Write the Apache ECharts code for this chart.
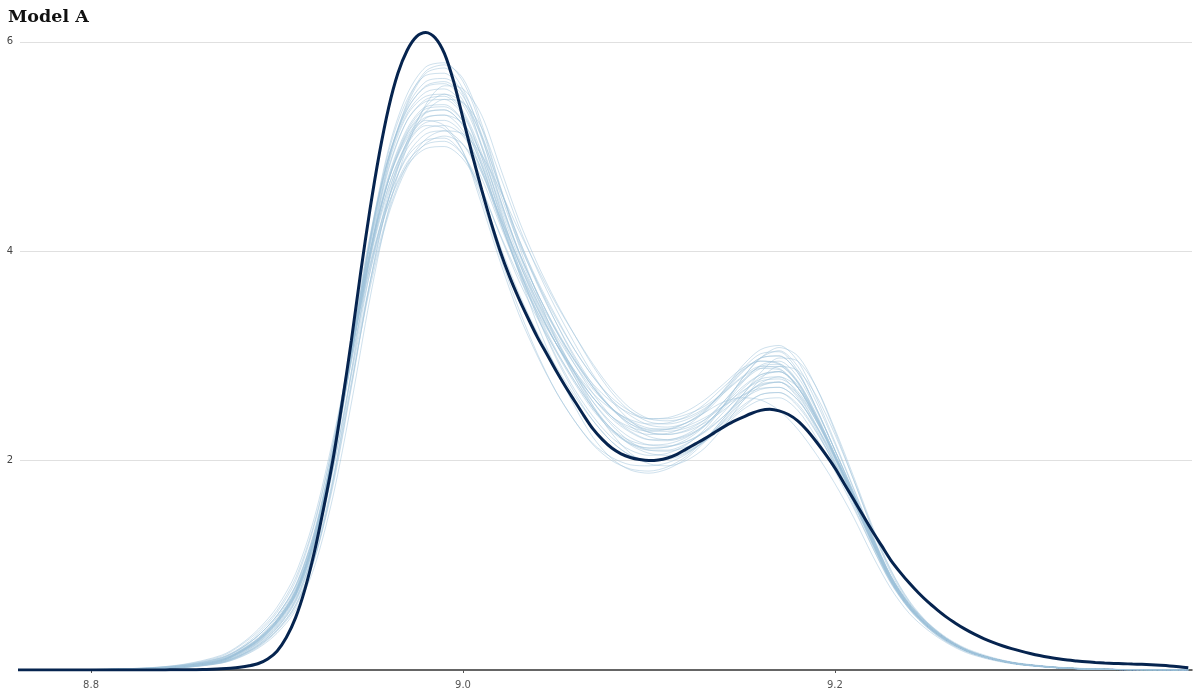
<!DOCTYPE html>
<html>
<head>
<meta charset="utf-8">
<script src="https://cdn.jsdelivr.net/npm/echarts@6/dist/echarts.min.js"></script>
<style>
html,body{margin:0;padding:0;background:#fff;}
#chart{width:1200px;height:700px;}
</style>
</head>
<body>
<div id="chart"></div>
<script>
// x positions of the replicated density grid
var xValues = [8.76,8.80,8.83,8.85,8.87,8.88,8.89,8.90,8.91,8.92,8.93,8.94,8.95,8.96,8.97,8.98,8.99,9.00,9.01,9.02,9.03,9.04,9.05,9.06,9.07,9.08,9.09,9.10,9.11,9.12,9.13,9.14,9.15,9.16,9.17,9.18,9.19,9.20,9.21,9.22,9.23,9.24,9.25,9.26,9.27,9.28,9.29,9.30,9.32,9.34,9.36,9.39];

// x positions of the observed density (finer, every 0.005 from 8.84)
var obsX = [8.76,8.80,8.84,8.845,8.85,8.855,8.86,8.865,8.87,8.875,8.88,8.885,8.89,8.895,8.90,8.905,8.91,8.915,8.92,8.925,8.93,8.935,8.94,8.945,8.95,8.955,8.96,8.965,8.97,8.975,8.98,8.985,8.99,8.995,9.00,9.005,9.01,9.015,9.02,9.025,9.03,9.035,9.04,9.045,9.05,9.055,9.06,9.065,9.07,9.075,9.08,9.085,9.09,9.095,9.10,9.105,9.11,9.115,9.12,9.125,9.13,9.135,9.14,9.145,9.15,9.155,9.16,9.165,9.17,9.175,9.18,9.185,9.19,9.195,9.20,9.205,9.21,9.215,9.22,9.225,9.23,9.235,9.24,9.245,9.25,9.255,9.26,9.265,9.27,9.275,9.28,9.285,9.29,9.295,9.30,9.305,9.31,9.315,9.32,9.325,9.33,9.335,9.34,9.345,9.35,9.355,9.36,9.365,9.37,9.375,9.38,9.385,9.39];
// observed density (dark line)
var observed = [0,0,0.001,0.0015,0.002,0.003,0.004,0.007,0.011,0.017,0.026,0.04,0.062,0.105,0.18,0.31,0.5,0.77,1.12,1.54,2.0,2.55,3.15,3.8,4.4,4.93,5.37,5.7,5.92,6.05,6.09,6.04,5.89,5.62,5.27,4.92,4.59,4.28,4.0,3.76,3.55,3.36,3.18,3.02,2.86,2.71,2.57,2.43,2.3,2.2,2.12,2.065,2.03,2.01,2.0,2.005,2.025,2.06,2.11,2.16,2.21,2.265,2.32,2.37,2.41,2.45,2.48,2.49,2.475,2.44,2.38,2.29,2.18,2.06,1.93,1.78,1.63,1.48,1.33,1.19,1.05,0.935,0.83,0.735,0.65,0.575,0.505,0.445,0.39,0.342,0.3,0.264,0.232,0.204,0.18,0.158,0.138,0.121,0.107,0.095,0.086,0.078,0.072,0.067,0.063,0.06,0.057,0.054,0.05,0.045,0.039,0.031,0.022];

// replicated densities (light lines)
var rep01 = [0,0.002,0.01,0.03,0.08,0.15,0.26,0.43,0.7,1.2,2.0,3.05,4.1,4.9,5.4,5.7,5.75,5.55,5.1,4.5,4.0,3.6,3.25,2.95,2.7,2.5,2.37,2.3,2.3,2.36,2.48,2.66,2.87,3.02,3.04,2.86,2.5,2.1,1.68,1.25,0.86,0.6,0.41,0.28,0.19,0.13,0.085,0.055,0.022,0.008,0.003,0];
var rep02 = [0,0.004,0.016,0.042,0.11,0.2,0.33,0.52,0.8,1.3,2.05,2.95,3.8,4.45,4.85,5.02,5.05,4.92,4.6,4.15,3.72,3.36,3.05,2.76,2.5,2.3,2.15,2.07,2.05,2.09,2.19,2.34,2.5,2.63,2.65,2.52,2.27,1.96,1.6,1.22,0.88,0.63,0.45,0.31,0.21,0.145,0.095,0.063,0.027,0.011,0.004,0];
var rep03 = [0,0.002,0.008,0.025,0.07,0.13,0.23,0.38,0.62,1.05,1.75,2.7,3.7,4.5,5.05,5.38,5.5,5.42,5.1,4.6,4.1,3.68,3.32,3.0,2.72,2.5,2.33,2.23,2.2,2.24,2.34,2.52,2.74,2.91,2.95,2.8,2.48,2.1,1.7,1.28,0.9,0.63,0.44,0.3,0.2,0.135,0.09,0.058,0.024,0.009,0.003,0];
var rep04 = [0,0.004,0.018,0.048,0.12,0.21,0.35,0.55,0.85,1.38,2.15,3.1,4.0,4.68,5.08,5.25,5.2,4.95,4.45,3.9,3.4,3.0,2.66,2.38,2.15,2.0,1.92,1.9,1.94,2.04,2.2,2.4,2.6,2.73,2.75,2.6,2.3,1.95,1.57,1.18,0.83,0.58,0.4,0.27,0.18,0.12,0.08,0.05,0.02,0.008,0.003,0];
var rep05 = [0,0.003,0.012,0.035,0.09,0.17,0.29,0.47,0.74,1.27,2.1,3.15,4.15,4.9,5.35,5.58,5.62,5.48,5.08,4.55,4.08,3.7,3.36,3.06,2.8,2.6,2.47,2.4,2.4,2.44,2.52,2.65,2.8,2.9,2.88,2.7,2.38,2.02,1.64,1.23,0.86,0.6,0.42,0.29,0.19,0.13,0.085,0.055,0.022,0.008,0.003,0];
var rep06 = [0,0.003,0.013,0.038,0.1,0.18,0.3,0.48,0.76,1.26,2.02,2.95,3.85,4.5,4.92,5.12,5.15,5.02,4.7,4.25,3.82,3.45,3.12,2.84,2.6,2.42,2.3,2.25,2.26,2.33,2.47,2.67,2.9,3.06,3.1,2.95,2.6,2.18,1.74,1.3,0.9,0.62,0.43,0.29,0.19,0.13,0.085,0.055,0.022,0.008,0.003,0];
var rep07 = [0,0.003,0.012,0.035,0.09,0.17,0.29,0.47,0.74,1.25,2.05,3.05,4.05,4.8,5.25,5.43,5.45,5.3,4.9,4.38,3.9,3.48,3.12,2.8,2.52,2.3,2.16,2.1,2.1,2.16,2.28,2.46,2.65,2.78,2.8,2.64,2.34,2.0,1.63,1.23,0.86,0.6,0.42,0.29,0.19,0.13,0.085,0.055,0.022,0.008,0.003,0];
var rep08 = [0,0.003,0.014,0.04,0.1,0.18,0.3,0.48,0.75,1.25,2.02,2.98,3.95,4.68,5.12,5.32,5.35,5.2,4.82,4.32,3.86,3.46,3.12,2.82,2.56,2.36,2.22,2.15,2.14,2.18,2.27,2.42,2.62,2.84,2.98,2.95,2.7,2.3,1.85,1.38,0.96,0.66,0.45,0.3,0.2,0.135,0.09,0.058,0.024,0.009,0.003,0];
var rep09 = [0,0.002,0.009,0.028,0.075,0.14,0.25,0.41,0.67,1.15,1.95,3.0,4.1,4.95,5.45,5.68,5.7,5.5,5.0,4.4,3.85,3.38,2.98,2.65,2.38,2.18,2.05,2.0,2.02,2.08,2.18,2.32,2.48,2.58,2.6,2.48,2.22,1.9,1.55,1.18,0.84,0.59,0.41,0.28,0.19,0.13,0.085,0.055,0.022,0.008,0.003,0];
var rep10 = [0,0.005,0.02,0.055,0.14,0.24,0.39,0.6,0.92,1.45,2.2,3.05,3.85,4.45,4.82,4.98,5.0,4.88,4.58,4.16,3.76,3.42,3.12,2.86,2.64,2.49,2.39,2.35,2.36,2.42,2.54,2.7,2.86,2.95,2.93,2.75,2.42,2.04,1.64,1.22,0.85,0.59,0.41,0.28,0.19,0.13,0.085,0.055,0.022,0.008,0.003,0];
var rep11 = [0,0.003,0.011,0.032,0.085,0.16,0.27,0.45,0.72,1.22,2.02,3.08,4.1,4.88,5.32,5.52,5.55,5.4,5.0,4.48,4.0,3.6,3.26,2.96,2.7,2.5,2.35,2.27,2.25,2.28,2.36,2.48,2.62,2.72,2.75,2.64,2.38,2.05,1.68,1.27,0.88,0.61,0.42,0.29,0.19,0.13,0.085,0.055,0.022,0.008,0.003,0];
var rep12 = [0,0.002,0.01,0.03,0.08,0.15,0.26,0.42,0.68,1.15,1.9,2.85,3.8,4.55,5.05,5.27,5.3,5.22,4.92,4.45,3.98,3.55,3.18,2.84,2.52,2.26,2.07,1.97,1.95,2.0,2.12,2.32,2.56,2.78,2.9,2.86,2.62,2.25,1.82,1.36,0.95,0.65,0.44,0.3,0.2,0.135,0.09,0.058,0.024,0.009,0.003,0];
var rep13 = [0,0.003,0.012,0.034,0.09,0.17,0.28,0.46,0.73,1.24,2.05,3.1,4.12,4.9,5.36,5.57,5.6,5.44,5.02,4.5,4.0,3.6,3.24,2.92,2.64,2.42,2.28,2.2,2.19,2.23,2.33,2.5,2.68,2.82,2.85,2.7,2.4,2.04,1.66,1.25,0.87,0.6,0.42,0.29,0.19,0.13,0.085,0.055,0.022,0.008,0.003,0];
var rep14 = [0,0.002,0.009,0.027,0.075,0.14,0.24,0.4,0.65,1.1,1.82,2.75,3.65,4.35,4.8,5.03,5.1,5.02,4.75,4.32,3.9,3.52,3.2,2.92,2.68,2.5,2.38,2.31,2.3,2.33,2.41,2.52,2.62,2.69,2.7,2.58,2.33,2.02,1.66,1.27,0.9,0.63,0.44,0.3,0.2,0.135,0.09,0.058,0.024,0.009,0.003,0];
var rep15 = [0,0.003,0.013,0.037,0.095,0.175,0.29,0.47,0.74,1.25,2.04,3.02,4.0,4.72,5.17,5.38,5.4,5.24,4.84,4.3,3.8,3.38,3.0,2.68,2.42,2.22,2.1,2.05,2.07,2.15,2.3,2.52,2.78,2.98,3.05,2.9,2.56,2.16,1.73,1.29,0.9,0.62,0.43,0.29,0.19,0.13,0.085,0.055,0.022,0.008,0.003,0];
var rep16 = [0,0.004,0.015,0.042,0.105,0.19,0.31,0.5,0.78,1.3,2.08,3.02,3.92,4.58,4.98,5.17,5.2,5.1,4.78,4.33,3.92,3.56,3.24,2.96,2.73,2.56,2.45,2.4,2.41,2.47,2.58,2.73,2.88,2.95,2.92,2.74,2.41,2.03,1.63,1.22,0.85,0.59,0.41,0.28,0.19,0.13,0.085,0.055,0.022,0.008,0.003,0];
var rep17 = [0,0.002,0.008,0.024,0.066,0.125,0.22,0.37,0.6,1.05,1.8,2.85,3.95,4.85,5.42,5.72,5.78,5.65,5.22,4.62,4.06,3.58,3.16,2.8,2.5,2.28,2.16,2.12,2.13,2.18,2.28,2.42,2.58,2.68,2.7,2.58,2.32,1.98,1.62,1.22,0.86,0.6,0.42,0.29,0.19,0.13,0.085,0.055,0.022,0.008,0.003,0];
var rep18 = [0,0.003,0.013,0.038,0.095,0.18,0.3,0.48,0.76,1.27,2.06,3.04,3.98,4.68,5.1,5.28,5.3,5.15,4.78,4.28,3.84,3.46,3.12,2.84,2.6,2.42,2.32,2.28,2.3,2.36,2.46,2.56,2.6,2.58,2.48,2.3,2.06,1.78,1.46,1.1,0.78,0.54,0.38,0.26,0.17,0.115,0.075,0.05,0.02,0.008,0.003,0];
var rep19 = [0,0.003,0.012,0.034,0.088,0.165,0.28,0.45,0.72,1.22,2.0,3.0,4.0,4.78,5.25,5.45,5.48,5.32,4.9,4.35,3.8,3.3,2.88,2.52,2.22,2.02,1.91,1.88,1.92,2.02,2.18,2.38,2.58,2.74,2.8,2.7,2.42,2.06,1.68,1.27,0.89,0.62,0.43,0.29,0.19,0.13,0.085,0.055,0.022,0.008,0.003,0];
var rep20 = [0,0.004,0.016,0.045,0.115,0.2,0.33,0.52,0.8,1.3,2.08,3.02,3.94,4.62,5.04,5.23,5.25,5.12,4.76,4.28,3.82,3.42,3.06,2.76,2.5,2.3,2.19,2.15,2.16,2.22,2.34,2.52,2.7,2.82,2.85,2.7,2.4,2.03,1.64,1.23,0.86,0.6,0.42,0.29,0.19,0.13,0.085,0.055,0.022,0.008,0.003,0];
var rep21 = [0,0.003,0.011,0.032,0.085,0.16,0.27,0.44,0.71,1.2,2.0,3.05,4.08,4.88,5.38,5.62,5.65,5.52,5.12,4.6,4.12,3.72,3.38,3.06,2.8,2.58,2.43,2.34,2.32,2.36,2.46,2.64,2.84,2.98,3.0,2.84,2.5,2.1,1.69,1.26,0.88,0.61,0.42,0.29,0.19,0.13,0.085,0.055,0.022,0.008,0.003,0];
var rep22 = [0,0.005,0.02,0.052,0.13,0.23,0.37,0.57,0.88,1.4,2.15,3.05,3.88,4.5,4.9,5.06,5.08,4.92,4.55,4.05,3.6,3.22,2.9,2.62,2.38,2.18,2.05,2.0,2.01,2.07,2.19,2.37,2.56,2.71,2.75,2.62,2.33,1.98,1.6,1.2,0.84,0.58,0.4,0.27,0.18,0.12,0.08,0.05,0.02,0.008,0.003,0];
var rep23 = [0,0.003,0.012,0.035,0.09,0.17,0.29,0.46,0.73,1.24,2.03,3.02,3.98,4.7,5.15,5.36,5.38,5.24,4.86,4.36,3.9,3.5,3.15,2.86,2.6,2.4,2.27,2.2,2.2,2.25,2.37,2.56,2.76,2.9,2.92,2.76,2.44,2.06,1.67,1.26,0.88,0.61,0.42,0.29,0.19,0.13,0.085,0.055,0.022,0.008,0.003,0];
var rep24 = [0,0.003,0.012,0.034,0.088,0.165,0.28,0.46,0.73,1.24,2.04,3.06,4.06,4.84,5.3,5.48,5.5,5.34,4.94,4.42,3.94,3.52,3.16,2.84,2.56,2.34,2.18,2.1,2.09,2.13,2.22,2.36,2.52,2.63,2.65,2.54,2.28,1.96,1.6,1.21,0.85,0.59,0.41,0.28,0.19,0.13,0.085,0.055,0.022,0.008,0.003,0];
var rep25 = [0,0.002,0.008,0.024,0.065,0.12,0.21,0.35,0.57,0.98,1.65,2.55,3.55,4.4,5.0,5.4,5.58,5.55,5.3,4.8,4.3,3.88,3.52,3.2,2.9,2.65,2.47,2.37,2.35,2.39,2.49,2.66,2.85,2.98,3.0,2.84,2.5,2.1,1.7,1.27,0.89,0.62,0.43,0.29,0.19,0.13,0.085,0.055,0.022,0.008,0.003,0];
var rep26 = [0,0.002,0.009,0.027,0.072,0.135,0.23,0.38,0.62,1.06,1.78,2.72,3.7,4.5,5.02,5.33,5.45,5.42,5.18,4.72,4.24,3.82,3.45,3.12,2.82,2.57,2.38,2.27,2.25,2.29,2.39,2.56,2.75,2.88,2.9,2.75,2.44,2.06,1.67,1.26,0.88,0.61,0.42,0.29,0.19,0.13,0.085,0.055,0.022,0.008,0.003,0];
var rep27 = [0,0.004,0.017,0.046,0.115,0.2,0.33,0.52,0.81,1.32,2.1,3.05,3.95,4.62,5.02,5.2,5.17,4.95,4.5,3.95,3.45,3.02,2.66,2.38,2.16,2.03,1.96,1.95,1.98,2.06,2.2,2.4,2.62,2.8,2.85,2.72,2.42,2.05,1.66,1.25,0.87,0.6,0.42,0.29,0.19,0.13,0.085,0.055,0.022,0.008,0.003,0];
var rep28 = [0,0.002,0.009,0.027,0.072,0.135,0.24,0.4,0.66,1.14,1.95,3.02,4.12,4.98,5.5,5.76,5.8,5.62,5.18,4.62,4.12,3.7,3.32,2.98,2.7,2.49,2.35,2.29,2.28,2.31,2.39,2.52,2.66,2.76,2.78,2.66,2.38,2.04,1.67,1.26,0.88,0.61,0.42,0.29,0.19,0.13,0.085,0.055,0.022,0.008,0.003,0];
var rep29 = [0,0.003,0.012,0.035,0.09,0.17,0.28,0.45,0.71,1.18,1.92,2.82,3.7,4.38,4.83,5.07,5.15,5.12,4.92,4.58,4.2,3.84,3.5,3.2,2.92,2.68,2.5,2.4,2.38,2.41,2.5,2.64,2.79,2.88,2.87,2.7,2.4,2.03,1.64,1.23,0.86,0.6,0.42,0.29,0.19,0.13,0.085,0.055,0.022,0.008,0.003,0];
var rep30 = [0,0.003,0.013,0.038,0.098,0.18,0.3,0.48,0.76,1.27,2.06,3.03,3.98,4.68,5.13,5.33,5.35,5.2,4.82,4.3,3.82,3.4,3.04,2.74,2.48,2.29,2.17,2.12,2.13,2.2,2.33,2.53,2.78,2.98,3.08,3.0,2.7,2.28,1.82,1.35,0.93,0.64,0.44,0.3,0.2,0.135,0.09,0.058,0.024,0.009,0.003,0];

var replicates = [rep01,rep02,rep03,rep04,rep05,rep06,rep07,rep08,rep09,rep10,rep11,rep12,rep13,rep14,rep15,rep16,rep17,rep18,rep19,rep20,rep21,rep22,rep23,rep24,rep25,rep26,rep27,rep28,rep29,rep30];

// axis tick labels
var xTickValues = [8.8, 9.0, 9.2];
var yTickValues = [2, 4, 6];
var titleText = 'Model A';

function pairs(xs, ys){
  return xs.map(function(x,i){ return [x, ys[i]]; });
}

var series = replicates.map(function(r, i){
  return {
    type: 'line', name: 'rep' + (i+1), data: pairs(xValues, r), smooth: 0.3,
    showSymbol: false, silent: true, z: 2,
    lineStyle: { color: 'rgba(160,195,220,0.5)', width: 1 }
  };
});
series.push({
  type: 'line', name: 'observed', data: pairs(obsX, observed), smooth: 0.3,
  showSymbol: false, silent: true, z: 5,
  lineStyle: { color: '#06244f', width: 3 }
});

var chart = echarts.init(document.getElementById('chart'), null, {renderer: 'canvas'});
chart.setOption({
  animation: false,
  backgroundColor: '#ffffff',
  title: {
    text: titleText, left: 3, top: 3,
    textStyle: { fontFamily: 'DejaVu Serif', fontWeight: 'bold', fontSize: 17.5, color: '#111' }
  },
  grid: { left: 20, right: 8, top: 20.9, bottom: 30, containLabel: false },
  xAxis: {
    type: 'value', min: 8.7618, max: 9.392,
    axisLine: { show: true, onZero: false, lineStyle: { color: '#333', width: 1.5 } },
    axisTick: { show: true, length: 3, customValues: xTickValues, lineStyle: { color: '#555' } },
    axisLabel: { customValues: xTickValues, margin: 10, fontSize: 10, color: '#555', fontFamily: 'DejaVu Sans',
      formatter: function(v){ return v.toFixed(1); } },
    splitLine: { show: false }
  },
  yAxis: {
    type: 'value', min: 0, max: 6.2, interval: 2,
    axisLine: { show: false }, axisTick: { show: false },
    axisLabel: { customValues: yTickValues, margin: 7, fontSize: 10, color: '#444', fontFamily: 'DejaVu Sans', verticalAlign: 'middle', padding: [6,0,0,0] },
    splitLine: { show: true, showMinLine: false, showMaxLine: false, lineStyle: { color: '#e0e0e0', width: 1 } }
  },
  series: series
});
</script>
</body>
</html>
